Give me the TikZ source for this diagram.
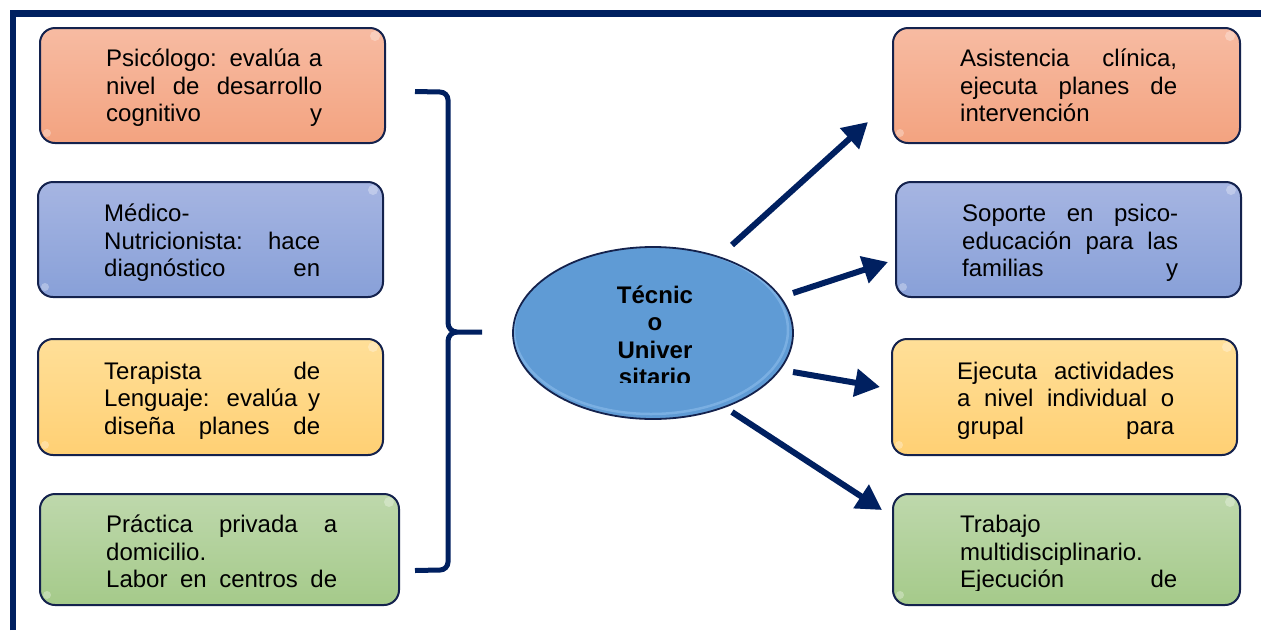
\documentclass[tikz,border=0pt]{standalone}
\usepackage{fontspec}
\setmainfont{Liberation Sans}
\usetikzlibrary{arrows.meta}
\definecolor{navy}{RGB}{0,32,96}
\definecolor{edge}{RGB}{20,34,77}
\definecolor{orT}{RGB}{247,187,162}
\definecolor{orB}{RGB}{243,163,128}
\definecolor{blT}{RGB}{166,181,226}
\definecolor{blB}{RGB}{136,160,216}
\definecolor{yeT}{RGB}{255,223,152}
\definecolor{yeB}{RGB}{255,208,116}
\definecolor{grT}{RGB}{190,216,172}
\definecolor{grB}{RGB}{165,202,138}
\definecolor{ellfill}{RGB}{95,155,213}
\definecolor{ellrim}{RGB}{150,195,240}
\newcommand{\jl}[1]{\makebox[\linewidth][s]{#1}\par}
\newcommand{\lj}[1]{\makebox[\linewidth][l]{#1}\par}
\newcommand{\txtblock}[2]{\parbox[t]{#1}{\fontsize{24pt}{27.5pt}\selectfont #2}}
\tikzset{
  card/.style={draw=edge, line width=2pt, rounded corners=15pt, inner sep=0pt, shading=axis, shading angle=0},
  orangecard/.style={card, top color=orT, bottom color=orB},
  bluecard/.style={card, top color=blT, bottom color=blB},
  yellowcard/.style={card, top color=yeT, bottom color=yeB},
  greencard/.style={card, top color=grT, bottom color=grB},
  glint/.style={fill=white, opacity=0.3},
  cardtext/.style={anchor=base west, inner sep=0pt, text=black},
  arrowline/.style={draw=navy, line width=6pt, -{Triangle[length=25pt,width=27pt]}},
  bracketline/.style={draw=navy, line width=5pt},
  frameline/.style={draw=navy, line width=6.5pt}
}
\begin{document}
\begin{tikzpicture}[x=1pt,y=-1pt]
\useasboundingbox (0,0) rectangle (1261,630);
\fill[white] (0,0) rectangle (1261,630);
% frame
\coordinate (f1) at (13,630);
\coordinate (f2) at (13,13.3);
\coordinate (f3) at (1261,13.3);
\draw[frameline] (f1) -- (f2) -- (f3);

% left cards
\node[orangecard, minimum width=345pt, minimum height=115pt] (L1) at (212.5,85.5) {};
\node[bluecard, minimum width=345pt, minimum height=115pt] (L2) at (210.5,239.5) {};
\node[yellowcard, minimum width=345pt, minimum height=116pt] (L3) at (210.5,397) {};
\node[greencard, minimum width=359pt, minimum height=111pt] (L4) at (219.5,549.5) {};
% right cards
\node[orangecard, minimum width=347pt, minimum height=115pt] (R1) at (1066.5,85.5) {};
\node[bluecard, minimum width=345pt, minimum height=115pt] (R2) at (1068.5,239.5) {};
\node[yellowcard, minimum width=345pt, minimum height=116pt] (R3) at (1064.5,397) {};
\node[greencard, minimum width=347pt, minimum height=111pt] (R4) at (1066.5,549.5) {};
% glints
\foreach \c in {L1,L2,L3,L4,R1,R2,R3,R4}{
  \fill[glint] ([xshift=-11pt,yshift=-9pt]\c.north east) circle [radius=5pt];
  \fill[glint] ([xshift=8pt,yshift=11pt]\c.south west) circle [radius=4pt];
}

% card texts
\node[cardtext] (tL1) at (106,66.5) {\txtblock{216pt}{\jl{Psicólogo: evalúa a}\jl{nivel de desarrollo}\jl{cognitivo y}}};
\node[cardtext] (tL2) at (104,221.5) {\txtblock{216pt}{\lj{Médico-}\jl{Nutricionista: hace}\jl{diagnóstico en}}};
\node[cardtext] (tL3) at (104,379) {\txtblock{216pt}{\jl{Terapista de}\jl{Lenguaje: evalúa y}\jl{diseña planes de}}};
\node[cardtext] (tR1) at (960,66.5) {\txtblock{217pt}{\jl{Asistencia clínica,}\jl{ejecuta planes de}\lj{intervención}}};
\node[cardtext] (tR2) at (962,221.5) {\txtblock{216pt}{\jl{Soporte en psico-}\jl{educación para las}\jl{familias y}}};
\node[cardtext] (tR3) at (957,379) {\txtblock{217pt}{\jl{Ejecuta actividades}\jl{a nivel individual o}\jl{grupal para}}};
\begin{scope}
\clip (0,0) rectangle (1261,590);
\node[cardtext] (tL4) at (106,532.5) {\txtblock{231pt}{\jl{Práctica privada a}\lj{domicilio.}\jl{Labor en centros de}}};
\node[cardtext] (tR4) at (960,532.5) {\txtblock{217pt}{\lj{Trabajo}\lj{multidisciplinario.}\jl{Ejecución de}}};
\end{scope}

% central ellipse
\draw[draw=edge, line width=1.8pt, fill=ellfill] (653,333) ellipse [x radius=140, y radius=86];
\begin{scope}
\clip (653,333) ellipse [x radius=139, y radius=85];
\draw[ellrim, line width=2.5pt, opacity=0.5] (651,330) ellipse [x radius=137, y radius=84];
\end{scope}
\node[inner sep=0pt, minimum width=280pt, minimum height=172pt] (E) at (653,333) {};
\begin{scope}
\clip (500,240) rectangle (800,382);
\node[anchor=base, inner sep=0pt] (tE) at (655,303.3) {\parbox[t]{120pt}{\centering\fontsize{24pt}{27.5pt}\selectfont\bfseries Técnic\par o\par Univer\par sitario\par}};
\end{scope}

% bracket
\coordinate (btop) at (415,91.5);
\coordinate (bbot) at (415,570.5);
\coordinate (bmid) at (482,332);
\draw[bracketline] (btop) -- (440,92) to[out=0,in=90] (448,100) -- (448,323) to[out=-90,in=180] (457,332) -- (bmid);
\draw[bracketline] (bbot) -- (440,570) to[out=0,in=-90] (448,562) -- (448,341) to[out=90,in=180] (457,332);

% arrows
\coordinate (a1s) at (732,245);
\coordinate (a1e) at (868,122);
\coordinate (a2s) at (793,293);
\coordinate (a2e) at (888,262);
\coordinate (a3s) at (793,372);
\coordinate (a3e) at (880,387);
\coordinate (a4s) at (732,412);
\coordinate (a4e) at (882,510);
\draw[arrowline] (a1s) -- (a1e);
\draw[arrowline] (a2s) -- (a2e);
\draw[arrowline] (a3s) -- (a3e);
\draw[arrowline] (a4s) -- (a4e);
\end{tikzpicture}
\end{document}
